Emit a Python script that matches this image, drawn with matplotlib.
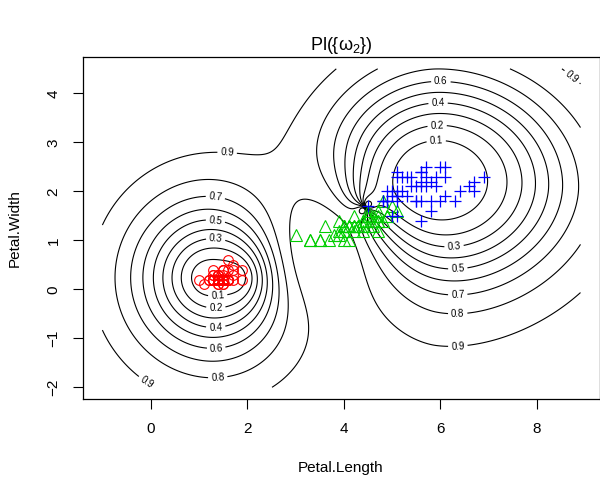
import numpy as np
import matplotlib
matplotlib.use("Agg")
import matplotlib.pyplot as plt

plt.rcParams['font.family'] = ['Liberation Sans', 'DejaVu Sans']
plt.rcParams['mathtext.fontset'] = 'custom'
plt.rcParams['mathtext.rm'] = 'Liberation Sans'

# iris petal measurements
setosa_len = [1.4, 1.4, 1.3, 1.5, 1.4, 1.7, 1.4, 1.5, 1.4, 1.5, 1.5, 1.6, 1.4, 1.1, 1.2, 1.5, 1.3, 1.4, 1.7, 1.5,
              1.7, 1.5, 1.0, 1.7, 1.9, 1.6, 1.6, 1.5, 1.4, 1.6, 1.6, 1.5, 1.5, 1.4, 1.5, 1.2, 1.3, 1.4, 1.3, 1.5,
              1.3, 1.3, 1.3, 1.6, 1.9, 1.4, 1.6, 1.4, 1.5, 1.4]
setosa_wid = [0.2, 0.2, 0.2, 0.2, 0.2, 0.4, 0.3, 0.2, 0.2, 0.1, 0.2, 0.2, 0.1, 0.1, 0.2, 0.4, 0.4, 0.3, 0.3, 0.3,
              0.2, 0.4, 0.2, 0.5, 0.2, 0.2, 0.4, 0.2, 0.2, 0.2, 0.2, 0.4, 0.1, 0.2, 0.2, 0.2, 0.2, 0.1, 0.2, 0.2,
              0.3, 0.3, 0.2, 0.6, 0.4, 0.3, 0.2, 0.2, 0.2, 0.2]
versi_len = [4.7, 4.5, 4.9, 4.0, 4.6, 4.5, 4.7, 3.3, 4.6, 3.9, 3.5, 4.2, 4.0, 4.7, 3.6, 4.4, 4.5, 4.1, 4.5, 3.9,
             4.8, 4.0, 4.9, 4.7, 4.3, 4.4, 4.8, 5.0, 4.5, 3.5, 3.8, 3.7, 3.9, 5.1, 4.5, 4.5, 4.7, 4.4, 4.1, 4.0,
             4.4, 4.6, 4.0, 3.3, 4.2, 4.2, 4.2, 4.3, 3.0, 4.1]
versi_wid = [1.4, 1.5, 1.5, 1.3, 1.5, 1.3, 1.6, 1.0, 1.3, 1.4, 1.0, 1.5, 1.0, 1.4, 1.3, 1.4, 1.5, 1.0, 1.5, 1.1,
             1.8, 1.3, 1.5, 1.2, 1.3, 1.4, 1.4, 1.7, 1.5, 1.0, 1.1, 1.0, 1.2, 1.6, 1.5, 1.6, 1.5, 1.3, 1.3, 1.3,
             1.2, 1.4, 1.2, 1.0, 1.3, 1.2, 1.3, 1.3, 1.1, 1.3]
virg_len = [6.0, 5.1, 5.9, 5.6, 5.8, 6.6, 4.5, 6.3, 5.8, 6.1, 5.1, 5.3, 5.5, 5.0, 5.1, 5.3, 5.5, 6.7, 6.9, 5.0,
            5.7, 4.9, 6.7, 4.9, 5.7, 6.0, 4.8, 4.9, 5.6, 5.8, 6.1, 6.4, 5.6, 5.1, 5.6, 6.1, 5.6, 5.5, 4.8, 5.4,
            5.6, 5.1, 5.1, 5.9, 5.7, 5.2, 5.0, 5.2, 5.4, 5.1]
virg_wid = [2.5, 1.9, 2.1, 1.8, 2.2, 2.1, 1.7, 1.8, 1.8, 2.5, 2.0, 1.9, 2.1, 2.0, 2.4, 2.3, 1.8, 2.2, 2.3, 1.5,
            2.3, 2.0, 2.0, 1.8, 2.1, 1.8, 1.8, 1.8, 2.1, 1.6, 1.9, 2.0, 2.2, 1.5, 1.4, 2.3, 2.4, 1.8, 1.8, 2.1,
            2.4, 2.3, 1.9, 2.3, 2.5, 2.3, 1.9, 2.0, 2.3, 1.8]

# prototypes (cx, cy, alpha, gamma, power, sx_left, sx_right, sy, q) estimated from the contours
proto_setosa = [(1.15, 0.24, 0.975, 0.80, 1.35, 1.0, 1.0, 1.0, 2.0),
                (1.75, 0.24, 0.975, 0.80, 1.35, 1.0, 1.0, 1.0, 2.0)]
proto_versi = [(3.60, 0.80, 0.98, 0.25, 2.0, 1.0, 1.0, 1.3, 2.0),
               (4.40, 1.62, 1.00, 3.0, 2.0, 1.0, 1.0, 1.0, 2.0)]
proto_virg = [(5.90, 2.22, 0.985, 0.24, 2.5, 1.25, 1.25, 1.0, 2.0),
              (5.90, 2.00, 0.47, 0.15, 2.0, 0.90, 1.25, 1.0, 1.8),
              (4.49, 1.72, 1.00, 3.0, 2.0, 1.0, 1.0, 1.0, 2.0)]

levels = [0.1, 0.2, 0.3, 0.4, 0.5, 0.6, 0.7, 0.8, 0.9]
label_pos = {
    0.1: [(1.39, -0.16), (5.91, 3.07)],
    0.2: [(1.35, -0.44), (5.93, 3.37)],
    0.3: [(1.35, 1.09), (6.28, 0.90)],
    0.4: [(1.35, -0.85), (5.95, 3.82)],
    0.5: [(1.35, 1.48), (6.36, 0.41)],
    0.6: [(1.35, -1.28), (6.01, 4.31)],
    0.7: [(1.35, 1.97), (6.36, -0.18)],
    0.8: [(1.39, -1.83), (6.36, -0.59)],
    0.9: [(1.58, 2.74), (-0.05, -1.85), (6.36, -1.16), (8.67, 4.27)],
}


def class_support(X, Y, protos):
    keep = np.ones_like(X)
    for cx, cy, a, g, p, sxl, sxr, sy, q in protos:
        dx = np.where(X < cx, (cx - X) / sxl, (X - cx) / sxr)
        dy = np.abs(Y - cy) / sy
        r = (dx ** q + dy ** q) ** (1 / q)
        keep *= 1 - a * np.exp(-g * r ** p)
    return 1 - keep


xg = np.linspace(-1, 8.9, 600)
yg = np.linspace(-2, 4.5, 480)
X, Y = np.meshgrid(xg, yg)
S1 = class_support(X, Y, proto_setosa)
S2 = class_support(X, Y, proto_versi)
S3 = class_support(X, Y, proto_virg)
# Dempster combination, plausibility of class 2
norm = (S1 * (1 - S2) * (1 - S3) + S2 * (1 - S1) * (1 - S3) + S3 * (1 - S1) * (1 - S2)
        + (1 - S1) * (1 - S2) * (1 - S3))
pl2 = (1 - S1) * (1 - S3) / np.maximum(norm, 1e-12)

fig = plt.figure(figsize=(6.0, 4.78), dpi=100)
ax = fig.add_axes([82.7 / 600, (478 - 399.3) / 478, (600.3 - 82.7) / 600, (399.3 - 57.3) / 478])
ax.set_xlim(-1.408, 9.31)
ax.set_ylim(-2.245, 4.735)

# one contour set per level so each label lands on its own line
for lev in levels:
    cs = ax.contour(X, Y, pl2, levels=[lev], colors='black', linewidths=0.8)
    try:
        ax.clabel(cs, manual=label_pos[lev], fmt='%.1f', fontsize=7, inline=True, inline_spacing=3)
    except Exception:
        pass

ax.plot(setosa_len, setosa_wid, 'o', mfc='none', mec='red', ms=7, mew=0.8, ls='none')
ax.plot(versi_len, versi_wid, '^', mfc='none', mec='#00CD00', ms=8, mew=0.8, ls='none')
ax.plot(virg_len, virg_wid, '+', color='blue', ms=9, mew=0.9, ls='none')

ax.set_xticks([0, 2, 4, 6, 8])
ax.set_yticks([-2, -1, 0, 1, 2, 3, 4])
ax.set_yticklabels(['−2', '−1', '0', '1', '2', '3', '4'], rotation=90, va='center')
ax.tick_params(length=7, width=0.8, labelsize=11, pad=9)
for s in ax.spines.values():
    s.set_linewidth(0.9)

fig.text(341 / 600, 1 - 45 / 478, 'Pl({ω$_2$})', ha='center', va='center', fontsize=13)
fig.text(341 / 600, 1 - 468 / 478, 'Petal.Length', ha='center', va='center', fontsize=11)
fig.text(15 / 600, 1 - 228 / 478, 'Petal.Width', ha='center', va='center', fontsize=11, rotation=90)

fig.savefig('out.png', dpi=100)
